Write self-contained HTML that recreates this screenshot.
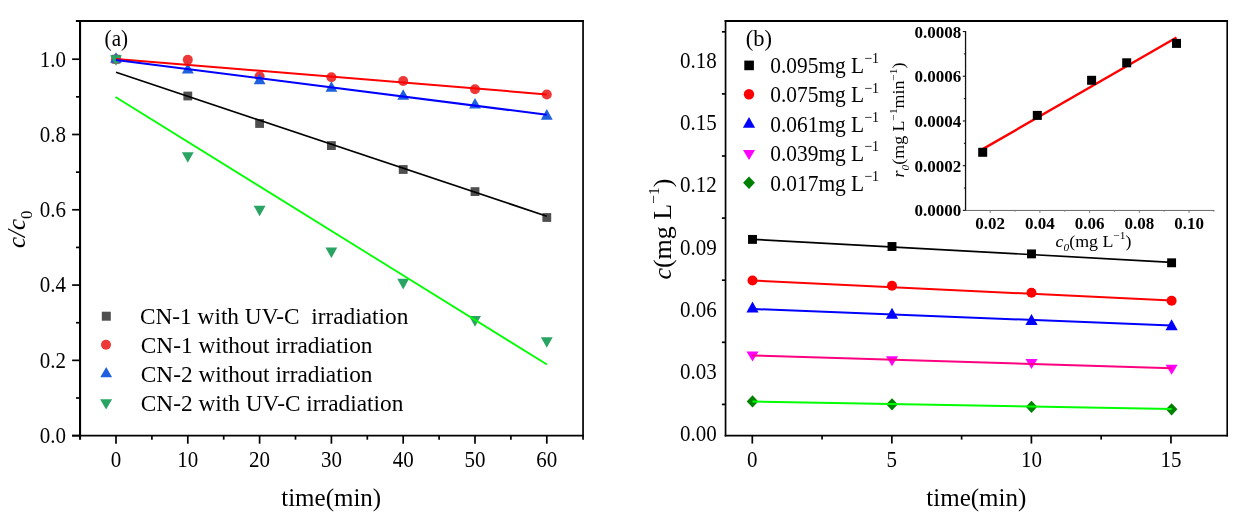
<!DOCTYPE html>
<html><head><meta charset="utf-8"><style>
html,body{margin:0;padding:0;background:#fff;}
body{width:1239px;height:517px;overflow:hidden;}
svg{display:block;font-family:"Liberation Serif", serif;will-change:transform;}
</style></head><body>
<svg width="1239" height="517" viewBox="0 0 1239 517" font-family='"Liberation Serif", serif' fill="#000">
<rect width="1239" height="517" fill="#fff"/>
<line x1="80.05" y1="19.90" x2="80.05" y2="439.70" stroke="#000" stroke-width="2.1" stroke-linecap="butt"/>
<line x1="72.10" y1="435.65" x2="583.95" y2="435.65" stroke="#000" stroke-width="1.7" stroke-linecap="butt"/>
<line x1="75.90" y1="20.90" x2="583.95" y2="20.90" stroke="#000" stroke-width="2.0" stroke-linecap="butt"/>
<line x1="583.05" y1="19.90" x2="583.05" y2="439.70" stroke="#000" stroke-width="1.7" stroke-linecap="butt"/>
<line x1="72.10" y1="435.65" x2="80.05" y2="435.65" stroke="#000" stroke-width="1.7" stroke-linecap="butt"/>
<line x1="76.00" y1="398.00" x2="80.05" y2="398.00" stroke="#000" stroke-width="1.7" stroke-linecap="butt"/>
<line x1="72.10" y1="360.36" x2="80.05" y2="360.36" stroke="#000" stroke-width="1.7" stroke-linecap="butt"/>
<line x1="76.00" y1="322.71" x2="80.05" y2="322.71" stroke="#000" stroke-width="1.7" stroke-linecap="butt"/>
<line x1="72.10" y1="285.07" x2="80.05" y2="285.07" stroke="#000" stroke-width="1.7" stroke-linecap="butt"/>
<line x1="76.00" y1="247.42" x2="80.05" y2="247.42" stroke="#000" stroke-width="1.7" stroke-linecap="butt"/>
<line x1="72.10" y1="209.78" x2="80.05" y2="209.78" stroke="#000" stroke-width="1.7" stroke-linecap="butt"/>
<line x1="76.00" y1="172.13" x2="80.05" y2="172.13" stroke="#000" stroke-width="1.7" stroke-linecap="butt"/>
<line x1="72.10" y1="134.49" x2="80.05" y2="134.49" stroke="#000" stroke-width="1.7" stroke-linecap="butt"/>
<line x1="76.00" y1="96.84" x2="80.05" y2="96.84" stroke="#000" stroke-width="1.7" stroke-linecap="butt"/>
<line x1="72.10" y1="59.20" x2="80.05" y2="59.20" stroke="#000" stroke-width="1.7" stroke-linecap="butt"/>
<line x1="116.00" y1="435.65" x2="116.00" y2="443.70" stroke="#000" stroke-width="1.7" stroke-linecap="butt"/>
<line x1="151.90" y1="435.65" x2="151.90" y2="439.70" stroke="#000" stroke-width="1.7" stroke-linecap="butt"/>
<line x1="187.80" y1="435.65" x2="187.80" y2="443.70" stroke="#000" stroke-width="1.7" stroke-linecap="butt"/>
<line x1="223.70" y1="435.65" x2="223.70" y2="439.70" stroke="#000" stroke-width="1.7" stroke-linecap="butt"/>
<line x1="259.60" y1="435.65" x2="259.60" y2="443.70" stroke="#000" stroke-width="1.7" stroke-linecap="butt"/>
<line x1="295.50" y1="435.65" x2="295.50" y2="439.70" stroke="#000" stroke-width="1.7" stroke-linecap="butt"/>
<line x1="331.40" y1="435.65" x2="331.40" y2="443.70" stroke="#000" stroke-width="1.7" stroke-linecap="butt"/>
<line x1="367.30" y1="435.65" x2="367.30" y2="439.70" stroke="#000" stroke-width="1.7" stroke-linecap="butt"/>
<line x1="403.20" y1="435.65" x2="403.20" y2="443.70" stroke="#000" stroke-width="1.7" stroke-linecap="butt"/>
<line x1="439.10" y1="435.65" x2="439.10" y2="439.70" stroke="#000" stroke-width="1.7" stroke-linecap="butt"/>
<line x1="475.00" y1="435.65" x2="475.00" y2="443.70" stroke="#000" stroke-width="1.7" stroke-linecap="butt"/>
<line x1="510.90" y1="435.65" x2="510.90" y2="439.70" stroke="#000" stroke-width="1.7" stroke-linecap="butt"/>
<line x1="546.80" y1="435.65" x2="546.80" y2="443.70" stroke="#000" stroke-width="1.7" stroke-linecap="butt"/>
<g transform="translate(0,443.05) scale(1,1.07) translate(0,-443.05)">
<text x="66.10" y="443.05" font-size="21" text-anchor="end" font-weight="normal" font-style="normal" >0.0</text>
</g>
<g transform="translate(0,367.76) scale(1,1.07) translate(0,-367.76)">
<text x="66.10" y="367.76" font-size="21" text-anchor="end" font-weight="normal" font-style="normal" >0.2</text>
</g>
<g transform="translate(0,292.47) scale(1,1.07) translate(0,-292.47)">
<text x="66.10" y="292.47" font-size="21" text-anchor="end" font-weight="normal" font-style="normal" >0.4</text>
</g>
<g transform="translate(0,217.18) scale(1,1.07) translate(0,-217.18)">
<text x="66.10" y="217.18" font-size="21" text-anchor="end" font-weight="normal" font-style="normal" >0.6</text>
</g>
<g transform="translate(0,141.89) scale(1,1.07) translate(0,-141.89)">
<text x="66.10" y="141.89" font-size="21" text-anchor="end" font-weight="normal" font-style="normal" >0.8</text>
</g>
<g transform="translate(0,66.60) scale(1,1.07) translate(0,-66.60)">
<text x="66.10" y="66.60" font-size="21" text-anchor="end" font-weight="normal" font-style="normal" >1.0</text>
</g>
<g transform="translate(0,466.70) scale(1,1.07) translate(0,-466.70)">
<text x="116.00" y="466.70" font-size="21" text-anchor="middle" font-weight="normal" font-style="normal" >0</text>
</g>
<g transform="translate(0,466.70) scale(1,1.07) translate(0,-466.70)">
<text x="187.80" y="466.70" font-size="21" text-anchor="middle" font-weight="normal" font-style="normal" >10</text>
</g>
<g transform="translate(0,466.70) scale(1,1.07) translate(0,-466.70)">
<text x="259.60" y="466.70" font-size="21" text-anchor="middle" font-weight="normal" font-style="normal" >20</text>
</g>
<g transform="translate(0,466.70) scale(1,1.07) translate(0,-466.70)">
<text x="331.40" y="466.70" font-size="21" text-anchor="middle" font-weight="normal" font-style="normal" >30</text>
</g>
<g transform="translate(0,466.70) scale(1,1.07) translate(0,-466.70)">
<text x="403.20" y="466.70" font-size="21" text-anchor="middle" font-weight="normal" font-style="normal" >40</text>
</g>
<g transform="translate(0,466.70) scale(1,1.07) translate(0,-466.70)">
<text x="475.00" y="466.70" font-size="21" text-anchor="middle" font-weight="normal" font-style="normal" >50</text>
</g>
<g transform="translate(0,466.70) scale(1,1.07) translate(0,-466.70)">
<text x="546.80" y="466.70" font-size="21" text-anchor="middle" font-weight="normal" font-style="normal" >60</text>
</g>
<text x="331.20" y="505.60" font-size="25" text-anchor="middle" font-weight="normal" font-style="normal" >time(min)</text>
<text transform="translate(24.9,248.1) rotate(-90)" font-size="25" font-style="italic">c/c<tspan font-size="16.7" dy="6.8" font-style="normal">0</tspan></text>
<g transform="translate(104.6,45.9) scale(0.94,1)"><text x="0" y="0" font-size="22.5">(a)</text></g>
<rect x="111.60" y="54.80" width="8.80" height="8.80" fill="#4f4f4f"/>
<rect x="183.40" y="91.60" width="8.80" height="8.80" fill="#4f4f4f"/>
<rect x="255.20" y="119.10" width="8.80" height="8.80" fill="#4f4f4f"/>
<rect x="327.00" y="141.20" width="8.80" height="8.80" fill="#4f4f4f"/>
<rect x="398.80" y="165.10" width="8.80" height="8.80" fill="#4f4f4f"/>
<rect x="470.60" y="187.20" width="8.80" height="8.80" fill="#4f4f4f"/>
<rect x="542.40" y="213.10" width="8.80" height="8.80" fill="#4f4f4f"/>
<circle cx="116.00" cy="59.20" r="5.00" fill="#ee3838"/>
<circle cx="187.80" cy="59.85" r="5.00" fill="#ee3838"/>
<circle cx="259.60" cy="76.30" r="5.00" fill="#ee3838"/>
<circle cx="331.40" cy="77.30" r="5.00" fill="#ee3838"/>
<circle cx="403.20" cy="81.00" r="5.00" fill="#ee3838"/>
<circle cx="475.00" cy="89.20" r="5.00" fill="#ee3838"/>
<circle cx="546.80" cy="94.50" r="5.00" fill="#ee3838"/>
<polygon points="116.00,52.23 121.90,62.83 110.10,62.83" fill="#1f60e0"/>
<polygon points="187.80,62.93 193.70,73.53 181.90,73.53" fill="#1f60e0"/>
<polygon points="259.60,73.73 265.50,84.33 253.70,84.33" fill="#1f60e0"/>
<polygon points="331.40,81.13 337.30,91.73 325.50,91.73" fill="#1f60e0"/>
<polygon points="403.20,89.13 409.10,99.73 397.30,99.73" fill="#1f60e0"/>
<polygon points="475.00,97.93 480.90,108.53 469.10,108.53" fill="#1f60e0"/>
<polygon points="546.80,109.03 552.70,119.63 540.90,119.63" fill="#1f60e0"/>
<polygon points="110.10,55.17 121.90,55.17 116.00,65.77" fill="#2aa462"/>
<polygon points="181.90,152.17 193.70,152.17 187.80,162.77" fill="#2aa462"/>
<polygon points="253.70,205.77 265.50,205.77 259.60,216.37" fill="#2aa462"/>
<polygon points="325.50,247.47 337.30,247.47 331.40,258.07" fill="#2aa462"/>
<polygon points="397.30,278.87 409.10,278.87 403.20,289.47" fill="#2aa462"/>
<polygon points="469.10,316.07 480.90,316.07 475.00,326.67" fill="#2aa462"/>
<polygon points="540.90,337.27 552.70,337.27 546.80,347.87" fill="#2aa462"/>
<line x1="116.00" y1="58.90" x2="546.80" y2="94.40" stroke="#ff0000" stroke-width="2.0" stroke-linecap="butt"/>
<line x1="116.00" y1="60.00" x2="546.80" y2="114.80" stroke="#0000ff" stroke-width="2.0" stroke-linecap="butt"/>
<line x1="116.00" y1="72.30" x2="546.80" y2="216.20" stroke="#000000" stroke-width="1.7" stroke-linecap="butt"/>
<line x1="115.50" y1="97.10" x2="547.00" y2="364.50" stroke="#00ff00" stroke-width="1.8" stroke-linecap="butt"/>
<rect x="101.80" y="311.70" width="9.00" height="9.00" fill="#4f4f4f"/>
<circle cx="106.00" cy="344.80" r="5.00" fill="#ee3838"/>
<polygon points="106.20,366.90 112.10,377.30 100.30,377.30" fill="#1f60e0"/>
<polygon points="100.10,399.30 112.10,399.30 106.10,409.60" fill="#2aa462"/>
<text x="140.00" y="324.10" font-size="23.3" text-anchor="start" font-weight="normal" font-style="normal" >CN-1 with UV-C&#160; irradiation</text>
<text x="140.80" y="352.80" font-size="23.3" text-anchor="start" font-weight="normal" font-style="normal" >CN-1 without irradiation</text>
<text x="140.80" y="381.80" font-size="23.3" text-anchor="start" font-weight="normal" font-style="normal" >CN-2 without irradiation</text>
<text x="140.80" y="410.50" font-size="23.3" text-anchor="start" font-weight="normal" font-style="normal" >CN-2 with UV-C irradiation</text>
<line x1="725.55" y1="19.90" x2="725.55" y2="436.40" stroke="#000" stroke-width="1.7" stroke-linecap="butt"/>
<line x1="724.70" y1="435.55" x2="1228.05" y2="435.55" stroke="#000" stroke-width="1.7" stroke-linecap="butt"/>
<line x1="724.70" y1="20.90" x2="1228.05" y2="20.90" stroke="#000" stroke-width="2.0" stroke-linecap="butt"/>
<line x1="1227.20" y1="19.90" x2="1227.20" y2="436.40" stroke="#000" stroke-width="1.6" stroke-linecap="butt"/>
<line x1="721.90" y1="404.40" x2="725.55" y2="404.40" stroke="#000" stroke-width="1.7" stroke-linecap="butt"/>
<line x1="721.90" y1="342.30" x2="725.55" y2="342.30" stroke="#000" stroke-width="1.7" stroke-linecap="butt"/>
<line x1="721.90" y1="280.20" x2="725.55" y2="280.20" stroke="#000" stroke-width="1.7" stroke-linecap="butt"/>
<line x1="721.90" y1="218.10" x2="725.55" y2="218.10" stroke="#000" stroke-width="1.7" stroke-linecap="butt"/>
<line x1="721.90" y1="156.00" x2="725.55" y2="156.00" stroke="#000" stroke-width="1.7" stroke-linecap="butt"/>
<line x1="721.90" y1="93.90" x2="725.55" y2="93.90" stroke="#000" stroke-width="1.7" stroke-linecap="butt"/>
<line x1="721.90" y1="31.80" x2="725.55" y2="31.80" stroke="#000" stroke-width="1.7" stroke-linecap="butt"/>
<g transform="translate(0,440.85) scale(1,1.07) translate(0,-440.85)">
<text x="716.80" y="440.85" font-size="21" text-anchor="end" font-weight="normal" font-style="normal" >0.00</text>
</g>
<g transform="translate(0,378.75) scale(1,1.07) translate(0,-378.75)">
<text x="716.80" y="378.75" font-size="21" text-anchor="end" font-weight="normal" font-style="normal" >0.03</text>
</g>
<g transform="translate(0,316.65) scale(1,1.07) translate(0,-316.65)">
<text x="716.80" y="316.65" font-size="21" text-anchor="end" font-weight="normal" font-style="normal" >0.06</text>
</g>
<g transform="translate(0,254.55) scale(1,1.07) translate(0,-254.55)">
<text x="716.80" y="254.55" font-size="21" text-anchor="end" font-weight="normal" font-style="normal" >0.09</text>
</g>
<g transform="translate(0,192.45) scale(1,1.07) translate(0,-192.45)">
<text x="716.80" y="192.45" font-size="21" text-anchor="end" font-weight="normal" font-style="normal" >0.12</text>
</g>
<g transform="translate(0,130.35) scale(1,1.07) translate(0,-130.35)">
<text x="716.80" y="130.35" font-size="21" text-anchor="end" font-weight="normal" font-style="normal" >0.15</text>
</g>
<g transform="translate(0,68.25) scale(1,1.07) translate(0,-68.25)">
<text x="716.80" y="68.25" font-size="21" text-anchor="end" font-weight="normal" font-style="normal" >0.18</text>
</g>
<line x1="752.30" y1="435.55" x2="752.30" y2="443.60" stroke="#000" stroke-width="1.7" stroke-linecap="butt"/>
<g transform="translate(0,466.70) scale(1,1.07) translate(0,-466.70)">
<text x="752.30" y="466.70" font-size="21" text-anchor="middle" font-weight="normal" font-style="normal" >0</text>
</g>
<line x1="891.85" y1="435.55" x2="891.85" y2="443.60" stroke="#000" stroke-width="1.7" stroke-linecap="butt"/>
<g transform="translate(0,466.70) scale(1,1.07) translate(0,-466.70)">
<text x="891.85" y="466.70" font-size="21" text-anchor="middle" font-weight="normal" font-style="normal" >5</text>
</g>
<line x1="1031.40" y1="435.55" x2="1031.40" y2="443.60" stroke="#000" stroke-width="1.7" stroke-linecap="butt"/>
<g transform="translate(0,466.70) scale(1,1.07) translate(0,-466.70)">
<text x="1031.40" y="466.70" font-size="21" text-anchor="middle" font-weight="normal" font-style="normal" >10</text>
</g>
<line x1="1170.95" y1="435.55" x2="1170.95" y2="443.60" stroke="#000" stroke-width="1.7" stroke-linecap="butt"/>
<g transform="translate(0,466.70) scale(1,1.07) translate(0,-466.70)">
<text x="1170.95" y="466.70" font-size="21" text-anchor="middle" font-weight="normal" font-style="normal" >15</text>
</g>
<line x1="822.07" y1="435.55" x2="822.07" y2="439.60" stroke="#000" stroke-width="1.7" stroke-linecap="butt"/>
<line x1="961.62" y1="435.55" x2="961.62" y2="439.60" stroke="#000" stroke-width="1.7" stroke-linecap="butt"/>
<line x1="1101.17" y1="435.55" x2="1101.17" y2="439.60" stroke="#000" stroke-width="1.7" stroke-linecap="butt"/>
<text x="976.30" y="505.60" font-size="25" text-anchor="middle" font-weight="normal" font-style="normal" >time(min)</text>
<text transform="translate(671.2,279.6) rotate(-90)" font-size="26"><tspan font-style="italic">c</tspan>(mg L<tspan font-size="15.5" dy="-12.3">&#8722;1</tspan><tspan dy="12.3">)</tspan></text>
<text x="745.80" y="45.90" font-size="22.5" text-anchor="start" font-weight="normal" font-style="normal" >(b)</text>
<rect x="748.05" y="234.95" width="8.90" height="8.90" fill="#000"/>
<circle cx="752.50" cy="280.50" r="5.00" fill="#ff0000"/>
<polygon points="752.50,301.40 758.60,312.40 746.40,312.40" fill="#0000ff"/>
<polygon points="746.50,351.60 758.50,351.60 752.50,361.60" fill="#ff00ff"/>
<polygon points="752.50,395.30 758.30,401.40 752.50,407.50 746.70,401.40" fill="#008000"/>
<rect x="887.55" y="242.05" width="8.90" height="8.90" fill="#000"/>
<circle cx="892.00" cy="285.80" r="5.00" fill="#ff0000"/>
<polygon points="892.00,307.80 898.10,318.80 885.90,318.80" fill="#0000ff"/>
<polygon points="886.00,356.30 898.00,356.30 892.00,366.30" fill="#ff00ff"/>
<polygon points="892.00,398.20 897.80,404.30 892.00,410.40 886.20,404.30" fill="#008000"/>
<rect x="1027.05" y="249.45" width="8.90" height="8.90" fill="#000"/>
<circle cx="1031.50" cy="292.80" r="5.00" fill="#ff0000"/>
<polygon points="1031.50,314.00 1037.60,325.00 1025.40,325.00" fill="#0000ff"/>
<polygon points="1025.50,358.90 1037.50,358.90 1031.50,368.90" fill="#ff00ff"/>
<polygon points="1031.50,400.70 1037.30,406.80 1031.50,412.90 1025.70,406.80" fill="#008000"/>
<rect x="1167.15" y="258.35" width="8.90" height="8.90" fill="#000"/>
<circle cx="1171.60" cy="300.70" r="5.00" fill="#ff0000"/>
<polygon points="1171.60,319.20 1177.70,330.20 1165.50,330.20" fill="#0000ff"/>
<polygon points="1165.60,364.80 1177.60,364.80 1171.60,374.80" fill="#ff00ff"/>
<polygon points="1171.60,403.20 1177.40,409.30 1171.60,415.40 1165.80,409.30" fill="#008000"/>
<line x1="752.50" y1="239.30" x2="1171.60" y2="262.30" stroke="#000000" stroke-width="1.7" stroke-linecap="butt"/>
<line x1="752.50" y1="280.50" x2="1171.60" y2="300.50" stroke="#ff0000" stroke-width="2.0" stroke-linecap="butt"/>
<line x1="752.50" y1="309.00" x2="1171.60" y2="325.50" stroke="#0000ff" stroke-width="2.0" stroke-linecap="butt"/>
<line x1="752.50" y1="355.50" x2="1171.60" y2="368.20" stroke="#ff0080" stroke-width="2.0" stroke-linecap="butt"/>
<line x1="752.50" y1="401.60" x2="1171.60" y2="409.10" stroke="#00ff00" stroke-width="2.0" stroke-linecap="butt"/>
<rect x="744.30" y="60.60" width="9.60" height="9.60" fill="#000"/>
<circle cx="749.00" cy="94.20" r="5.20" fill="#ff0000"/>
<polygon points="749.00,117.00 755.10,127.80 742.90,127.80" fill="#0000ff"/>
<polygon points="743.00,149.90 755.00,149.90 749.00,160.10" fill="#ff00ff"/>
<polygon points="749.00,176.40 754.90,182.70 749.00,189.00 743.10,182.70" fill="#008000"/>
<g transform="translate(0,73.00) scale(1,1.06) translate(0,-73.00)"><text x="770.3" y="73.00" font-size="21.4">0.095mg L<tspan font-size="14" dy="-9.2">&#8722;1</tspan></text></g>
<g transform="translate(0,102.40) scale(1,1.06) translate(0,-102.40)"><text x="770.3" y="102.40" font-size="21.4">0.075mg L<tspan font-size="14" dy="-9.2">&#8722;1</tspan></text></g>
<g transform="translate(0,131.80) scale(1,1.06) translate(0,-131.80)"><text x="770.3" y="131.80" font-size="21.4">0.061mg L<tspan font-size="14" dy="-9.2">&#8722;1</tspan></text></g>
<g transform="translate(0,161.20) scale(1,1.06) translate(0,-161.20)"><text x="770.3" y="161.20" font-size="21.4">0.039mg L<tspan font-size="14" dy="-9.2">&#8722;1</tspan></text></g>
<g transform="translate(0,190.60) scale(1,1.06) translate(0,-190.60)"><text x="770.3" y="190.60" font-size="21.4">0.017mg L<tspan font-size="14" dy="-9.2">&#8722;1</tspan></text></g>
<line x1="965.55" y1="31.00" x2="965.55" y2="210.90" stroke="#111" stroke-width="1.3" stroke-linecap="butt"/>
<line x1="965.00" y1="210.45" x2="1214.40" y2="210.45" stroke="#6a6a6a" stroke-width="1.0" stroke-linecap="butt"/>
<line x1="962.80" y1="210.40" x2="965.50" y2="210.40" stroke="#111" stroke-width="1.1" stroke-linecap="butt"/>
<text x="961.20" y="216.40" font-size="17" text-anchor="end" font-weight="bold" font-style="normal" >0.0000</text>
<line x1="962.80" y1="165.68" x2="965.50" y2="165.68" stroke="#111" stroke-width="1.1" stroke-linecap="butt"/>
<text x="961.20" y="171.68" font-size="17" text-anchor="end" font-weight="bold" font-style="normal" >0.0002</text>
<line x1="962.80" y1="120.96" x2="965.50" y2="120.96" stroke="#111" stroke-width="1.1" stroke-linecap="butt"/>
<text x="961.20" y="126.96" font-size="17" text-anchor="end" font-weight="bold" font-style="normal" >0.0004</text>
<line x1="962.80" y1="76.24" x2="965.50" y2="76.24" stroke="#111" stroke-width="1.1" stroke-linecap="butt"/>
<text x="961.20" y="82.24" font-size="17" text-anchor="end" font-weight="bold" font-style="normal" >0.0006</text>
<line x1="962.80" y1="31.52" x2="965.50" y2="31.52" stroke="#111" stroke-width="1.1" stroke-linecap="butt"/>
<text x="961.20" y="37.52" font-size="17" text-anchor="end" font-weight="bold" font-style="normal" >0.0008</text>
<line x1="963.90" y1="188.04" x2="965.50" y2="188.04" stroke="#111" stroke-width="1.1" stroke-linecap="butt"/>
<line x1="963.90" y1="143.32" x2="965.50" y2="143.32" stroke="#111" stroke-width="1.1" stroke-linecap="butt"/>
<line x1="963.90" y1="98.60" x2="965.50" y2="98.60" stroke="#111" stroke-width="1.1" stroke-linecap="butt"/>
<line x1="963.90" y1="53.88" x2="965.50" y2="53.88" stroke="#111" stroke-width="1.1" stroke-linecap="butt"/>
<line x1="990.16" y1="210.90" x2="990.16" y2="212.80" stroke="#777" stroke-width="1.0" stroke-linecap="butt"/>
<text x="990.16" y="228.50" font-size="17" text-anchor="middle" font-weight="bold" font-style="normal" >0.02</text>
<line x1="1039.88" y1="210.90" x2="1039.88" y2="212.80" stroke="#777" stroke-width="1.0" stroke-linecap="butt"/>
<text x="1039.88" y="228.50" font-size="17" text-anchor="middle" font-weight="bold" font-style="normal" >0.04</text>
<line x1="1089.60" y1="210.90" x2="1089.60" y2="212.80" stroke="#777" stroke-width="1.0" stroke-linecap="butt"/>
<text x="1089.60" y="228.50" font-size="17" text-anchor="middle" font-weight="bold" font-style="normal" >0.06</text>
<line x1="1139.32" y1="210.90" x2="1139.32" y2="212.80" stroke="#777" stroke-width="1.0" stroke-linecap="butt"/>
<text x="1139.32" y="228.50" font-size="17" text-anchor="middle" font-weight="bold" font-style="normal" >0.08</text>
<line x1="1189.04" y1="210.90" x2="1189.04" y2="212.80" stroke="#777" stroke-width="1.0" stroke-linecap="butt"/>
<text x="1189.04" y="228.50" font-size="17" text-anchor="middle" font-weight="bold" font-style="normal" >0.10</text>
<line x1="1015.02" y1="210.90" x2="1015.02" y2="211.90" stroke="#999" stroke-width="1.0" stroke-linecap="butt"/>
<line x1="1064.74" y1="210.90" x2="1064.74" y2="211.90" stroke="#999" stroke-width="1.0" stroke-linecap="butt"/>
<line x1="1114.46" y1="210.90" x2="1114.46" y2="211.90" stroke="#999" stroke-width="1.0" stroke-linecap="butt"/>
<line x1="1164.18" y1="210.90" x2="1164.18" y2="211.90" stroke="#999" stroke-width="1.0" stroke-linecap="butt"/>
<line x1="1213.90" y1="210.90" x2="1213.90" y2="211.90" stroke="#999" stroke-width="1.0" stroke-linecap="butt"/>
<g transform="translate(1055.6,246.6) scale(1.09,1)"><text x="0" y="0" font-size="16.4"><tspan font-style="italic">c</tspan><tspan font-size="10.5" font-style="italic" dy="4.2">0</tspan><tspan dy="-4.2">(mg L</tspan><tspan font-size="10.5" dy="-7.6">&#8722;1</tspan><tspan dy="7.6">)</tspan></text></g>
<text transform="translate(904.2,177.4) rotate(-90) scale(1.08,1)" font-size="16.6"><tspan font-style="italic">r</tspan><tspan font-size="10.5" font-style="italic" dy="4.4">0</tspan><tspan dy="-4.4">(mg L</tspan><tspan font-size="10.5" dy="-7.5">&#8722;1</tspan><tspan dy="7.5">min</tspan><tspan font-size="10.5" dy="-7.5">&#8722;1</tspan><tspan dy="7.5">)</tspan></text>
<line x1="982.20" y1="149.40" x2="1176.50" y2="37.50" stroke="#ff0000" stroke-width="2.4" stroke-linecap="butt"/>
<rect x="978.20" y="147.80" width="9.00" height="9.00" fill="#000"/>
<rect x="1032.80" y="110.90" width="9.00" height="9.00" fill="#000"/>
<rect x="1087.10" y="75.80" width="9.00" height="9.00" fill="#000"/>
<rect x="1122.20" y="58.30" width="9.00" height="9.00" fill="#000"/>
<rect x="1172.00" y="38.90" width="9.00" height="9.00" fill="#000"/>
</svg></body></html>
